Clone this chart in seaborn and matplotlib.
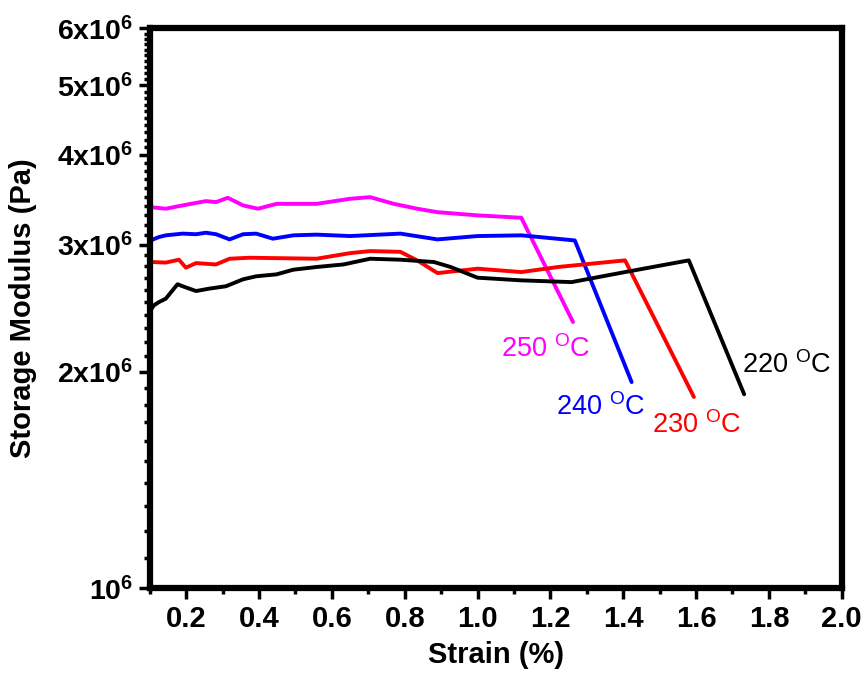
import numpy as np
import pandas as pd
import seaborn as sns
import matplotlib
matplotlib.use("Agg")
import matplotlib.pyplot as plt
from matplotlib.ticker import FixedLocator, NullFormatter

# strain (%) and storage modulus (Pa)
x_250 = [0.102, 0.144, 0.19, 0.254, 0.282, 0.314, 0.356, 0.397, 0.448, 0.558, 0.65, 0.705, 0.77, 0.834, 0.89, 1.0, 1.12, 1.262]
g_250 = [3.385, 3.368, 3.404, 3.451, 3.44, 3.488, 3.404, 3.368, 3.421, 3.421, 3.477, 3.495, 3.421, 3.368, 3.331, 3.297, 3.272, 2.344]

x_240 = [0.102, 0.125, 0.144, 0.19, 0.227, 0.254, 0.282, 0.319, 0.356, 0.392, 0.438, 0.494, 0.558, 0.65, 0.788, 0.89, 1.0, 1.12, 1.267, 1.423]
g_240 = [3.043, 3.076, 3.093, 3.11, 3.104, 3.119, 3.104, 3.053, 3.104, 3.11, 3.06, 3.093, 3.10, 3.086, 3.11, 3.053, 3.086, 3.093, 3.043, 1.934]

x_230 = [0.102, 0.144, 0.18, 0.199, 0.227, 0.282, 0.319, 0.374, 0.558, 0.65, 0.705, 0.788, 0.834, 0.89, 1.0, 1.12, 1.221, 1.405, 1.594]
g_230 = [2.84, 2.835, 2.861, 2.789, 2.83, 2.818, 2.87, 2.879, 2.87, 2.922, 2.941, 2.934, 2.855, 2.741, 2.78, 2.75, 2.795, 2.855, 1.844]

x_220 = [0.102, 0.111, 0.125, 0.144, 0.176, 0.19, 0.227, 0.263, 0.309, 0.356, 0.392, 0.448, 0.494, 0.558, 0.632, 0.705, 0.788, 0.88, 0.926, 1.0, 1.12, 1.258, 1.405, 1.58, 1.732]
g_220 = [2.433, 2.472, 2.498, 2.526, 2.645, 2.628, 2.588, 2.608, 2.628, 2.687, 2.713, 2.73, 2.771, 2.795, 2.818, 2.87, 2.861, 2.84, 2.795, 2.701, 2.678, 2.663, 2.75, 2.855, 1.86]

temps = ["250", "240", "230", "220"]
colors = ["#ff00ff", "#0000ff", "#ff0000", "#000000"]
label_x = [1.064, 1.215, 1.478, 1.727]
label_y = [2.094e6, 1.739e6, 1.642e6, 1.989e6]

frames = []
for t, xs, gs in zip(temps, [x_250, x_240, x_230, x_220], [g_250, g_240, g_230, g_220]):
    frames.append(pd.DataFrame({"strain": xs, "G": np.array(gs) * 1e6, "T": t}))
df = pd.concat(frames, ignore_index=True)

sns.set_style("ticks", {"axes.edgecolor": "black", "text.color": "black",
                        "axes.labelcolor": "black", "xtick.color": "black",
                        "ytick.color": "black"})
plt.rcParams["font.family"] = ["Liberation Sans", "DejaVu Sans"]
plt.rcParams["mathtext.fontset"] = "custom"
plt.rcParams["mathtext.rm"] = "Liberation Sans"
plt.rcParams["mathtext.bf"] = "Liberation Sans:bold"

fig = plt.figure(figsize=(8.66, 6.73), dpi=100)
ax = fig.add_axes([0.173, 0.126, 0.799, 0.832])

for t, c in zip(temps, colors):
    sns.lineplot(data=df[df["T"] == t], x="strain", y="G", color=c, lw=2.8,
                 sort=False, estimator=None, ax=ax)

ax.set_yscale("log")
ax.set_xlim(0.1, 2.0)
ax.set_ylim(1e6, 6e6)

ax.set_xticks(np.arange(0.2, 2.01, 0.2))
ax.set_xticklabels([f"{v:.1f}" for v in np.arange(0.2, 2.01, 0.2)], fontsize=21, fontweight="bold")
ax.xaxis.set_minor_locator(FixedLocator(np.arange(0.1, 2.0, 0.2)))

ax.yaxis.set_major_locator(FixedLocator([1e6, 2e6, 3e6, 4e6, 5e6, 6e6]))
ax.set_yticklabels([r"$\mathbf{10^{6}}$"] + [rf"$\mathbf{{{k}x10^{{6}}}}$" for k in range(2, 7)], fontsize=20.5)
minor = [v * 1e5 for v in range(11, 60) if v % 10 != 0]
ax.yaxis.set_minor_locator(FixedLocator(minor))
ax.yaxis.set_minor_formatter(NullFormatter())

ax.tick_params(which="major", direction="out", length=8, width=2.5, pad=4)
ax.tick_params(which="minor", direction="out", length=4.5, width=2.5)
for s in ax.spines.values():
    s.set_linewidth(4.5)
    s.set_visible(True)

ax.set_xlabel("Strain (%)", fontsize=21, fontweight="bold")
ax.set_ylabel("Storage Modulus (Pa)", fontsize=21, fontweight="bold")
ax.xaxis.set_label_coords(0.5, -0.095)
ax.yaxis.set_label_coords(-0.163, 0.5)

for t, c, lx, ly in zip(temps, colors, label_x, label_y):
    ax.text(lx, ly, t + r" $^{\mathrm{O}}$C", color=c, fontsize=19.5, ha="left", va="baseline")

fig.savefig("out.png", dpi=100)
